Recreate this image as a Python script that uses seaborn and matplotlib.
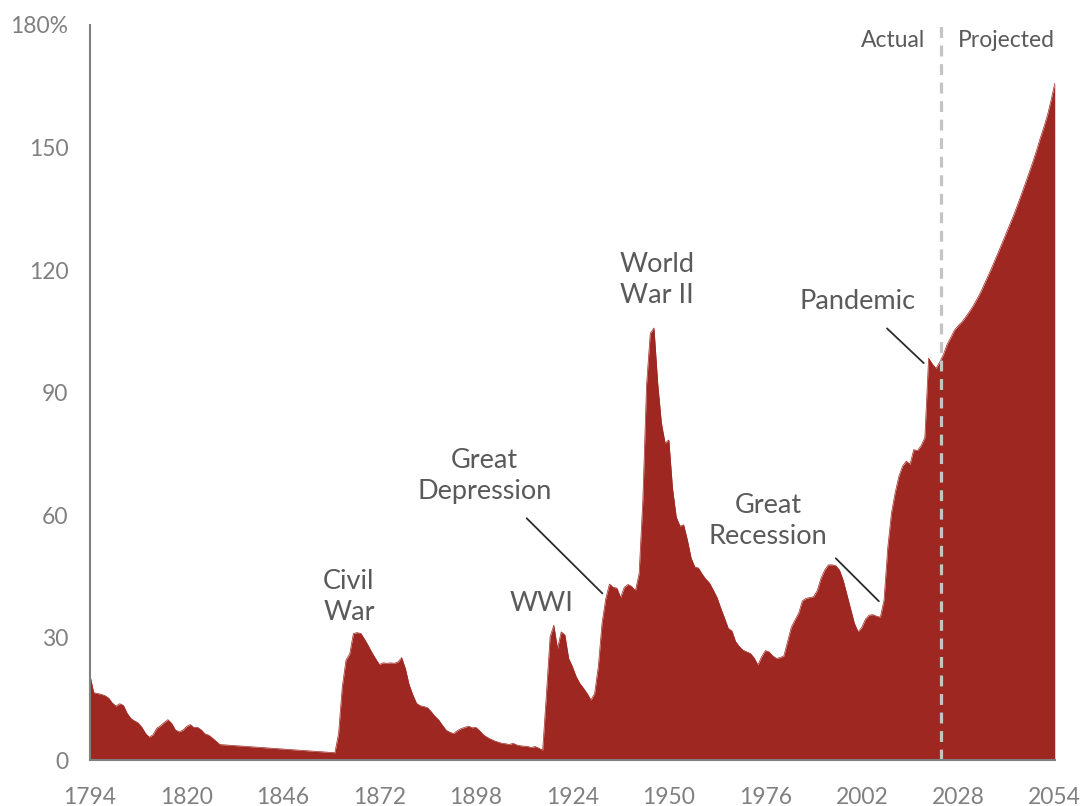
import pandas as pd
import matplotlib.pyplot as plt
import seaborn as sns

# ===================== DATA =====================
# debt held by the public, % of GDP
early_years = list(range(1794, 1830))
early_debt = [20.8, 16.5, 16.3, 16.1, 15.8, 15.2, 14.0, 13.2, 13.8, 13.4,
              11.5, 10.2, 9.6, 9.1, 8.0, 6.5, 5.6, 6.2, 7.8, 8.4,
              9.2, 9.9, 9.0, 7.4, 6.9, 7.3, 8.2, 8.7, 8.0, 8.0,
              7.4, 6.4, 6.1, 5.4, 4.6, 3.8]

hist_years = list(range(1860, 2024))
hist_debt = [1.8, 6.5, 18.0, 24.5, 26.0, 31.0, 31.2, 31.0, 29.6, 28.0,   # 1860s
             26.3, 24.8, 23.4, 23.8, 23.7, 23.8, 23.7, 24.0, 25.1, 22.4,  # 1870s
             18.5, 16.0, 13.9, 13.3, 13.1, 12.8, 11.8, 10.7, 9.8, 8.5,    # 1880s
             7.3, 6.8, 6.5, 7.2, 7.7, 8.0, 8.3, 7.9, 8.0, 7.2,            # 1890s
             6.2, 5.6, 5.1, 4.7, 4.4, 4.1, 4.0, 3.8, 4.1, 3.7,            # 1900s
             3.5, 3.4, 3.3, 3.1, 3.3, 2.9, 2.4, 16.0, 30.2, 33.0,         # 1910s
             27.3, 31.4, 30.6, 24.9, 22.9, 20.5, 18.8, 17.6, 16.3, 14.7,  # 1920s
             16.3, 22.9, 33.5, 39.5, 43.1, 42.3, 42.1, 39.8, 42.3, 43.0,  # 1930s
             42.5, 41.5, 45.7, 63.7, 92.0, 104.5, 105.8, 92.3, 82.5, 77.6,  # 1940s
             78.4, 66.5, 59.5, 57.3, 57.6, 53.9, 49.5, 47.3, 47.0, 45.5,  # 1950s
             44.3, 43.3, 41.6, 39.8, 37.2, 34.8, 32.3, 31.6, 29.0, 27.8,  # 1960s
             26.9, 26.5, 26.1, 25.0, 23.3, 25.3, 26.8, 26.5, 25.5, 24.9,  # 1970s
             25.1, 25.5, 29.0, 32.5, 34.3, 36.0, 39.0, 39.6, 39.8, 40.0,  # 1980s
             41.5, 44.5, 46.5, 47.8, 47.8, 47.6, 46.5, 44.0, 40.5, 37.0,  # 1990s
             33.5, 31.4, 32.5, 34.5, 35.5, 35.6, 35.2, 35.0, 39.2, 52.0,  # 2000s
             60.5, 65.5, 69.5, 72.0, 73.2, 72.4, 76.0, 75.8, 77.0, 79.0,  # 2010s
             98.4, 97.0, 95.9, 97.5]                                     # 2020s

proj_years = list(range(2024, 2055))
proj_debt = [99.3, 101.8, 103.5, 105.3, 106.4, 107.3, 108.5, 109.8, 111.2, 112.8,
             114.5, 116.5, 118.5, 120.5, 122.7, 124.8, 127.0, 129.2, 131.4, 133.6,
             136.0, 138.5, 141.0, 143.6, 146.2, 149.0, 152.0, 154.8, 157.8, 161.5,
             165.7]

x_ticks = [1794, 1820, 1846, 1872, 1898, 1924, 1950, 1976, 2002, 2028, 2054]
y_ticks = [0, 30, 60, 90, 120, 150, 180]
y_tick_labels = ["0", "30", "60", "90", "120", "150", "180%"]

# label, x, y
events = [
    ("Civil\nWar", 1863.8, 39.9),
    ("WWI", 1915.6, 38.4),
    ("Great\nDepression", 1900.3, 69.5),
    ("World\nWar II", 1946.9, 117.6),
    ("Great\nRecession", 1976.7, 58.5),
    ("Pandemic", 2000.8, 112.2),
]
# leader lines: (x0, y0, x1, y1)
leaders = [
    (1911.7, 59.2, 1932.1, 40.8),
    (1995.0, 49.4, 2006.6, 38.9),
    (2008.8, 105.7, 2018.7, 97.2),
]
split_year = 2023.3

df = pd.DataFrame({
    "Year": early_years + hist_years + proj_years,
    "Debt": early_debt + hist_debt + proj_debt,
})

# ===================== STYLE =====================
sns.set_style("white")
plt.rcParams["font.family"] = ["Lato", "DejaVu Sans"]

RED = "#9e2721"
GREY = "#808080"
TEXT = "#5a5a5a"

fig = plt.figure(figsize=(10.84, 8.06), dpi=100)
ax = fig.add_axes([0.083, 0.057, 0.890, 0.912])

# ===================== PLOT =====================
ax.fill_between(df["Year"], df["Debt"], 0, color=RED, linewidth=0)
sns.lineplot(data=df, x="Year", y="Debt", color=RED, linewidth=0.5, ax=ax)

ax.axvline(split_year, color="#c4c4c4", linewidth=2.3, dashes=(3.4, 2.4))

for label, x, y in events:
    ax.text(x, y, label, ha="center", va="center", fontsize=19.5,
            color=TEXT, linespacing=1.3)

for x0, y0, x1, y1 in leaders:
    ax.plot([x0, x1], [y0, y1], color="#2b2b2b", linewidth=1.3)

ax.text(2019.0, 176.3, "Actual", ha="right", va="center", fontsize=16.5, color=TEXT)
ax.text(2027.9, 176.3, "Projected", ha="left", va="center", fontsize=16.5, color=TEXT)

# ===================== AXES =====================
ax.set_xlim(1794, 2054)
ax.set_ylim(0, 180)
ax.set_xticks(x_ticks)
ax.set_yticks(y_ticks)
ax.set_yticklabels(y_tick_labels)
ax.set_xlabel("")
ax.set_ylabel("")

sns.despine(ax=ax)
for side in ["left", "bottom"]:
    ax.spines[side].set_color(GREY)
    ax.spines[side].set_linewidth(1.5)

ax.tick_params(axis="both", which="both", colors=GREY, labelcolor=GREY,
               labelsize=16.5, length=6.5, width=1.5, direction="out")
ax.tick_params(axis="y", pad=9)
ax.tick_params(axis="x", pad=13)

fig.savefig("out.png", dpi=100)
